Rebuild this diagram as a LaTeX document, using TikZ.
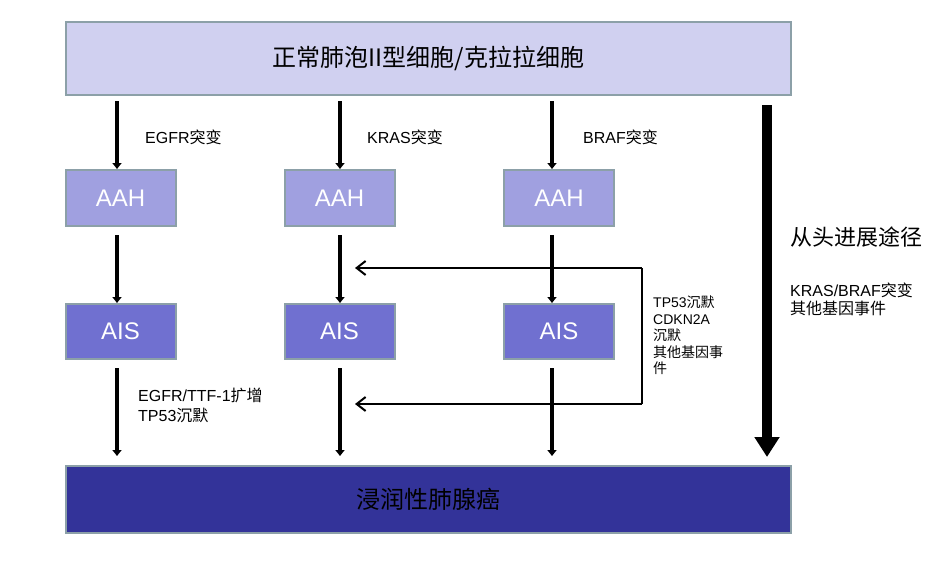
\documentclass[tikz,border=0pt]{standalone}
\usepackage{fontspec}
\setmainfont{Liberation Sans}
\newfontfamily\cjkfont{Noto Sans CJK SC}
\newcommand\cj[1]{{\cjkfont #1}}
\usetikzlibrary{arrows.meta}
\definecolor{topfill}{RGB}{208,208,240}
\definecolor{aahfill}{RGB}{160,160,224}
\definecolor{aisfill}{RGB}{112,112,208}
\definecolor{botfill}{RGB}{51,51,153}
\definecolor{edgecol}{RGB}{140,160,168}
\begin{document}
\begin{tikzpicture}[x=1pt,y=-1pt,
 box/.style={draw=edgecol,line width=2pt,inner sep=0pt,anchor=center},
 bigbox/.style={box,minimum width=725pt},
 smallbox/.style={box,minimum width=110pt,text=white,font=\fontsize{24}{28}\selectfont},
 aahbox/.style={smallbox,fill=aahfill,minimum height=56pt},
 aisbox/.style={smallbox,fill=aisfill,minimum height=55pt},
 flow/.style={line width=4pt,-{Triangle[width=9pt,length=6pt]}},
 fb/.style={line width=2pt,-{Straight Barb[length=9pt,width=14pt]}},
 lab/.style={anchor=west,inner sep=0pt,align=left,font=\fontsize{16}{20}\selectfont},
]
\useasboundingbox (0,0) rectangle (930,570);

% boxes
\node[bigbox,fill=topfill,minimum height=73pt,font=\fontsize{24}{28}\selectfont] (top) at (428.5,58.5) {\cj{正常肺泡II型细胞/克拉拉细胞}};
\node[aahbox] (aah1) at (120.5,198) {AAH};
\node[aahbox] (aah2) at (339.5,198) {AAH};
\node[aahbox] (aah3) at (559,198) {AAH};
\node[aisbox] (ais1) at (120.5,331.5) {AIS};
\node[aisbox] (ais2) at (339.5,331.5) {AIS};
\node[aisbox] (ais3) at (559,331.5) {AIS};
\node[bigbox,fill=botfill,minimum height=67pt,font=\fontsize{24}{28}\selectfont] (bot) at (428.5,499.5) {\cj{浸润性肺腺癌}};

% column x positions
\coordinate (c1) at (117,0);
\coordinate (c2) at (340,0);
\coordinate (c3) at (552,0);

% vertical flow arrows
\foreach \i in {1,2,3}{
  \draw[flow,shorten <=5pt] (top.south -| c\i) -- (aah\i.north -| c\i);
  \draw[flow,shorten <=8pt] (aah\i.south -| c\i) -- (ais\i.north -| c\i);
  \draw[flow,shorten <=8pt,shorten >=9pt] (ais\i.south -| c\i) -- (bot.north -| c\i);
}

% feedback loop
\coordinate (l1) at (642,268);
\coordinate (l2) at (642,404);
\coordinate (t1) at (355,268);
\coordinate (t2) at (355,404);
\draw[line width=2pt] (l1) -- (l2);
\draw[fb] (l1) -- (t1);
\draw[fb] (l2) -- (t2);

% big arrow
\coordinate (b1) at (767,105);
\coordinate (b2) at (767,457);
\draw[line width=10pt,-{Triangle[width=24pt,length=20pt]}] (b1) -- (b2);

% labels
\node[lab] (e1) at (145,137) {EGFR\cj{突变}};
\node[lab] (e2) at (367,137) {KRAS\cj{突变}};
\node[lab] (e3) at (583,137) {BRAF\cj{突变}};
\node[lab,font=\fontsize{22}{26}\selectfont] (r1) at (790,237) {\cj{从头进展途径}};
\node[lab,font=\fontsize{16}{18}\selectfont] (r2) at (790,299) {KRAS/BRAF\cj{突变}\\\cj{其他基因事件}};
\node[lab,font=\fontsize{14}{16.5}\selectfont] (r3) at (653,335.5) {TP53\cj{沉默}\\CDKN2A\\\cj{沉默}\\\cj{其他基因事}\\\cj{件}};
\node[lab] (r4) at (138,405) {EGFR/TTF-1\cj{扩增}\\TP53\cj{沉默}};
\end{tikzpicture}
\end{document}
